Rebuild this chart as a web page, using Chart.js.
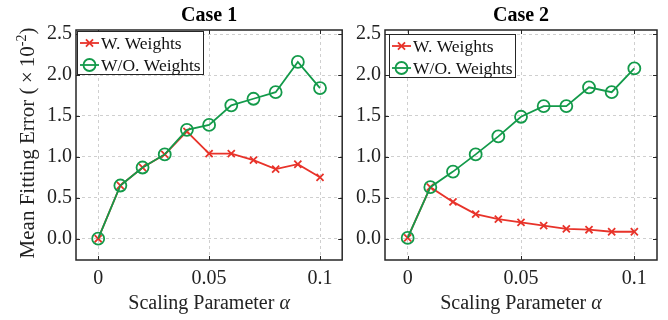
<!DOCTYPE html>
<html>
<head>
<meta charset="utf-8">
<script src="https://cdn.jsdelivr.net/npm/chart.js@4.4.0/dist/chart.umd.min.js"></script>
<style>
  html, body { margin: 0; padding: 0; background: #fff; }
  #wrap { position: relative; width: 668px; height: 320px; }
  canvas { position: absolute; top: 0; }
</style>
</head>
<body>
<div id="wrap">
  <canvas id="chartCase1" width="350" height="320" style="left:0;width:350px;height:320px"></canvas>
  <canvas id="chartCase2" width="318" height="320" style="left:350px;width:318px;height:320px"></canvas>
</div>
<script>
// datos (x10^-2)
const alphas = [0, 0.01, 0.02, 0.03, 0.04, 0.05, 0.06, 0.07, 0.08, 0.09, 0.1];
const xTicks = [0, 0.05, 0.1];
const yTicks = [0, 0.5, 1.0, 1.5, 2.0, 2.5];
const seriesNames = ['W. Weights', 'W/O. Weights'];
const case1Weighted   = [0.00, 0.65, 0.87, 1.03, 1.31, 1.04, 1.04, 0.96, 0.85, 0.91, 0.75];
const case1Unweighted = [0.00, 0.65, 0.87, 1.03, 1.33, 1.39, 1.63, 1.71, 1.79, 2.16, 1.84];
const case2Weighted   = [0.01, 0.63, 0.45, 0.30, 0.24, 0.20, 0.16, 0.12, 0.11, 0.085, 0.085];
const case2Unweighted = [0.01, 0.63, 0.82, 1.03, 1.25, 1.49, 1.62, 1.62, 1.85, 1.79, 2.08];

const ROJO = '#e8332a';
const VERDE = '#139a4a';
const FUENTE = '"Liberation Serif", "Times New Roman", serif';

Chart.defaults.font.family = FUENTE;
Chart.defaults.color = '#222';

function puntos(vals) {
  return alphas.map((a, i) => ({ x: a, y: vals[i] }));
}

// marco, titulos y leyenda dibujados a mano
function plugMarco(cfg) {
  return {
    id: 'marco',
    afterDraw(chart) {
      const ctx = chart.ctx;
      const a = chart.chartArea;
      const xs = chart.scales.x, ys = chart.scales.y;
      ctx.save();

      // ticks interiores
      ctx.strokeStyle = '#262626';
      ctx.lineWidth = 1;
      ctx.beginPath();
      yTicks.forEach(v => {
        const py = Math.round(ys.getPixelForValue(v)) + 0.5;
        ctx.moveTo(a.left, py); ctx.lineTo(a.left + 4, py);
        ctx.moveTo(a.right, py); ctx.lineTo(a.right - 4, py);
      });
      xTicks.forEach(v => {
        const px = Math.round(xs.getPixelForValue(v)) + 0.5;
        ctx.moveTo(px, a.bottom); ctx.lineTo(px, a.bottom - 4);
        ctx.moveTo(px, a.top); ctx.lineTo(px, a.top + 4);
      });
      ctx.stroke();

      // caja
      ctx.lineWidth = 1.5;
      ctx.strokeRect(a.left, a.top, a.right - a.left, a.bottom - a.top);

      // titulo
      ctx.fillStyle = '#000';
      ctx.textAlign = 'center';
      ctx.textBaseline = 'alphabetic';
      ctx.font = 'bold 20px ' + FUENTE;
      const cx = (a.left + a.right) / 2;
      ctx.fillText(cfg.titulo, cx, 21);

      // titulo eje x con alfa en cursiva
      ctx.fillStyle = '#222';
      ctx.font = '20px ' + FUENTE;
      const t1 = 'Scaling Parameter ';
      const w1 = ctx.measureText(t1).width;
      ctx.font = 'italic 20px ' + FUENTE;
      const w2 = ctx.measureText('\u03b1').width;
      let x0 = cx - (w1 + w2) / 2;
      ctx.textAlign = 'left';
      ctx.font = '20px ' + FUENTE;
      ctx.fillText(t1, x0, 309);
      ctx.font = 'italic 20px ' + FUENTE;
      ctx.fillText('\u03b1', x0 + w1, 309);

      // titulo eje y
      if (cfg.yLabel) {
        ctx.save();
        ctx.translate(34, 143);
        ctx.rotate(-Math.PI / 2);
        ctx.font = '21px ' + FUENTE;
        const p1 = 'Mean Fitting Error (\u2009\u00d7\u200910';
        const p3 = ')';
        const wp1 = ctx.measureText(p1).width;
        const wp3 = ctx.measureText(p3).width;
        ctx.font = '14px ' + FUENTE;
        const wp2 = ctx.measureText('-2').width;
        const total = wp1 + wp2 + wp3;
        let s = -total / 2;
        ctx.textAlign = 'left';
        ctx.font = '21px ' + FUENTE;
        ctx.fillText(p1, s, 0);
        ctx.font = '14px ' + FUENTE;
        ctx.fillText('-2', s + wp1, -8);
        ctx.font = '21px ' + FUENTE;
        ctx.fillText(p3, s + wp1 + wp2, 0);
        ctx.restore();
      }

      // leyenda
      const lx = a.left + cfg.legDx, ly = a.top + cfg.legDy;
      const lw = 126, lh = 43;
      ctx.fillStyle = '#fff';
      ctx.fillRect(lx, ly, lw, lh);
      ctx.strokeStyle = '#262626';
      ctx.lineWidth = 1;
      ctx.strokeRect(lx + 0.5, ly + 0.5, lw, lh);
      const estilos = [
        { color: ROJO, forma: 'crossRot', r: 5 },
        { color: VERDE, forma: 'circle', r: 6 }
      ];
      estilos.forEach((e, i) => {
        const ry = ly + 12 + i * 22;
        ctx.strokeStyle = e.color;
        ctx.lineWidth = 1.8;
        ctx.beginPath();
        ctx.moveTo(lx + 3, ry); ctx.lineTo(lx + 22, ry);
        ctx.stroke();
        ctx.fillStyle = 'rgba(0,0,0,0)';
        Chart.helpers.drawPoint(ctx, {
          pointStyle: e.forma, radius: e.r, borderWidth: 1.8, rotation: 0
        }, lx + 12.5, ry);
        ctx.fillStyle = '#111';
        ctx.font = '17.5px ' + FUENTE;
        ctx.textAlign = 'left';
        ctx.textBaseline = 'middle';
        ctx.fillText(seriesNames[i], lx + 24, ry + 1);
      });

      ctx.restore();
    }
  };
}

function crearGrafico(id, datosW, datosWO, cfg) {
  const canvas = document.getElementById(id);
  return new Chart(canvas, {
    type: 'line',
    data: {
      datasets: [
        {
          label: seriesNames[0],
          data: puntos(datosW),
          borderColor: ROJO,
          backgroundColor: ROJO,
          borderWidth: 1.8,
          pointStyle: 'crossRot',
          pointRadius: 5,
          pointBorderWidth: 1.8,
          order: 2
        },
        {
          label: seriesNames[1],
          data: puntos(datosWO),
          borderColor: VERDE,
          backgroundColor: 'transparent',
          borderWidth: 1.8,
          pointStyle: 'circle',
          pointRadius: 6,
          pointBorderWidth: 1.8,
          order: 1
        }
      ]
    },
    options: {
      responsive: false,
      animation: false,
      layout: { padding: { top: 30, right: cfg.padRight, left: 0, bottom: 0 } },
      plugins: {
        legend: { display: false },
        tooltip: { enabled: false },
        title: { display: false }
      },
      scales: {
        x: {
          type: 'linear',
          min: -0.01,
          max: 0.11,
          afterBuildTicks: s => { s.ticks = xTicks.map(v => ({ value: v })); },
          afterFit: s => { s.height = 60; },
          grid: { color: '#cfcfcf', drawTicks: false, lineWidth: 1 },
          border: { display: false, dash: [3, 3] },
          ticks: {
            padding: 7,
            color: '#222',
            font: { size: 20 },
            callback: v => (v === 0 ? '0' : String(+v.toFixed(2)))
          }
        },
        y: {
          min: -0.26,
          max: 2.55,
          afterBuildTicks: s => { s.ticks = yTicks.map(v => ({ value: v })); },
          afterFit: s => { s.width = cfg.yWidth; },
          grid: { color: '#cfcfcf', drawTicks: false, lineWidth: 1 },
          border: { display: false, dash: [3, 3] },
          ticks: {
            padding: 4,
            color: '#222',
            font: { size: 20 },
            callback: v => v.toFixed(1)
          }
        }
      }
    },
    plugins: [plugMarco(cfg)]
  });
}

crearGrafico('chartCase1', case1Weighted, case1Unweighted,
  { titulo: 'Case 1', yLabel: true, yWidth: 76, padRight: 4, legDx: 1, legDy: 1 });
crearGrafico('chartCase2', case2Weighted, case2Unweighted,
  { titulo: 'Case 2', yLabel: false, yWidth: 35, padRight: 11, legDx: 4, legDy: 4 });
</script>
</body>
</html>
